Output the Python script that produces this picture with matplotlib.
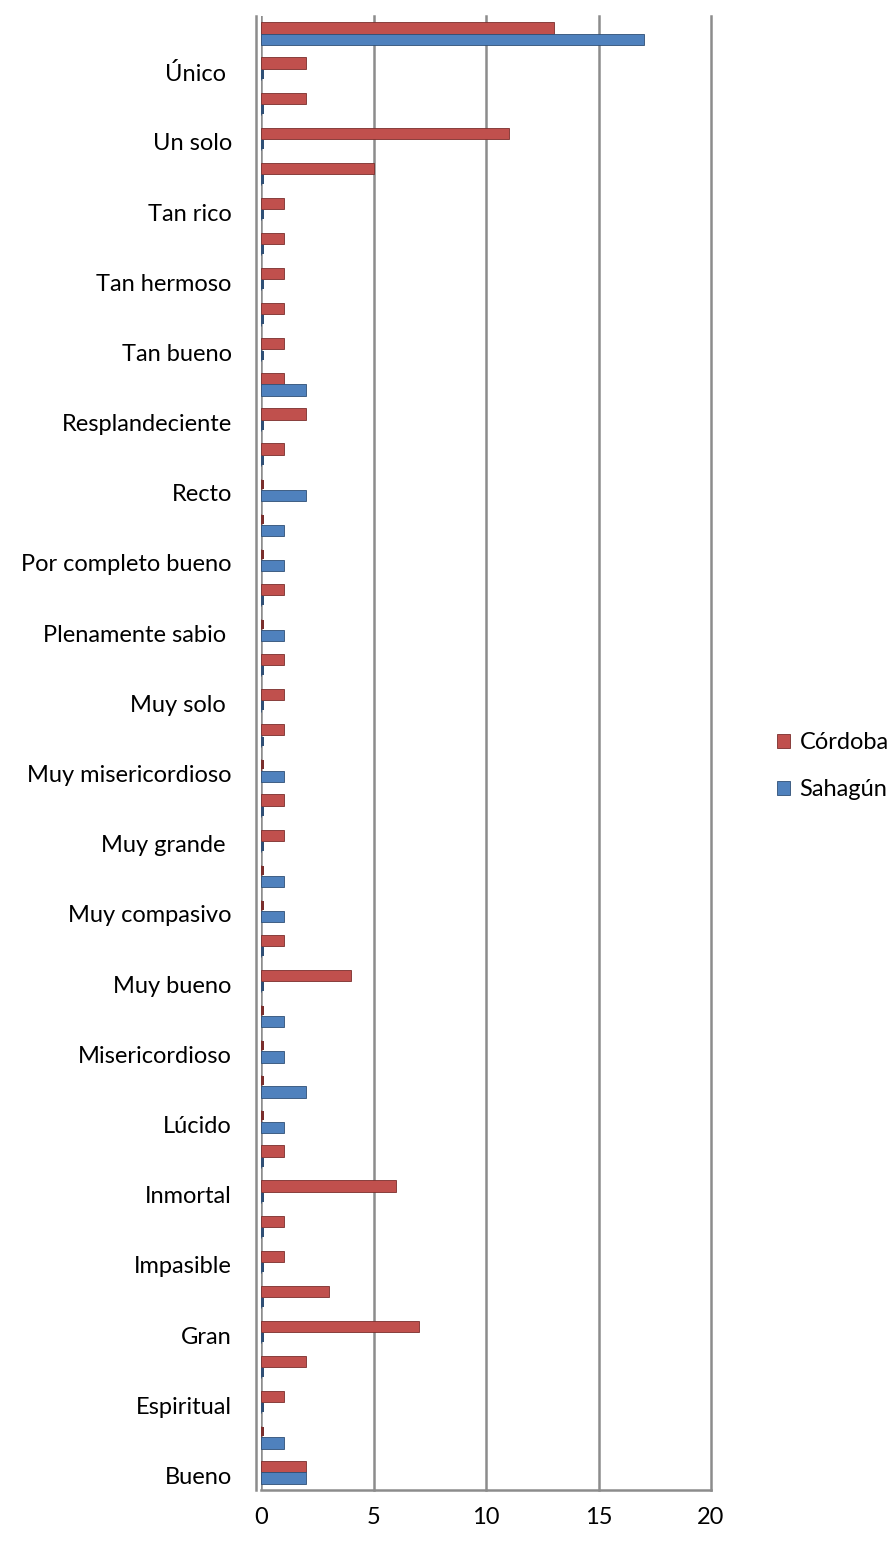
import matplotlib.pyplot as plt
import matplotlib.transforms as mtransforms
import numpy as np

# categories from bottom to top; only every other label is shown in the chart
categories = ["Bueno", "", "Espiritual", "", "Gran", "", "Impasible", "",
              "Inmortal", "", "Lúcido", "", "Misericordioso", "", "Muy bueno", "",
              "Muy compasivo", "", "Muy grande ", "", "Muy misericordioso", "",
              "Muy solo ", "", "Plenamente sabio ", "", "Por completo bueno", "",
              "Recto", "", "Resplandeciente", "", "Tan bueno", "", "Tan hermoso", "",
              "Tan rico", "", "Un solo", "", "Único ", ""]
cordoba = [2, 0, 1, 2, 7, 3, 1, 1, 6, 1, 0, 0, 0, 0, 4, 1, 0, 0, 1, 1, 0,
           1, 1, 1, 0, 1, 0, 0, 0, 1, 2, 1, 1, 1, 1, 1, 1, 5, 11, 2, 2, 13]
sahagun = [2, 1, 0, 0, 0, 0, 0, 0, 0, 0, 1, 2, 1, 1, 0, 0, 1, 1, 0, 0, 1,
           0, 0, 0, 1, 0, 1, 1, 2, 0, 0, 2, 0, 0, 0, 0, 0, 0, 0, 0, 0, 17]
series_names = ["Córdoba", "Sahagún"]
xticks = [0, 5, 10, 15, 20]

red = "#C0504D"
blue = "#4F81BD"
red_dark = "#7A2E2C"
blue_dark = "#2F4F75"

plt.rcParams['font.family'] = ['Lato', 'DejaVu Sans']

fig = plt.figure(figsize=(8.94, 15.41), dpi=100)
ax = fig.add_axes([261 / 894, 51 / 1541, (711 - 261) / 894, (1489.5 - 15.5) / 1541])

y = np.arange(len(categories))
h = 0.32
c = np.array(cordoba, dtype=float)
s = np.array(sahagun, dtype=float)

ax.barh(y + h / 2, c, height=h, color=red, edgecolor=red_dark, linewidth=0.6, zorder=3,
        label=series_names[0])
ax.barh(y - h / 2, s, height=h, color=blue, edgecolor=blue_dark, linewidth=0.6, zorder=3,
        label=series_names[1])
# thin slivers where the value is zero (3D depth of empty bars)
ax.barh((y + h / 2)[c == 0], 0.12, height=h * 0.8, color=red_dark, zorder=3)
ax.barh((y - h / 2)[s == 0], 0.12, height=h * 0.8, color=blue_dark, zorder=3)

ax.set_xlim(0, 20)
ax.set_ylim(-0.5, len(categories) - 0.5)
ax.set_xticks(xticks)
ax.set_xticklabels([str(v) for v in xticks])
ax.set_yticks(y)
ax.set_yticklabels(categories)
ax.tick_params(axis='both', length=0, labelsize=17)
ax.tick_params(axis='y', pad=21)
ax.tick_params(axis='x', pad=12)

shift = mtransforms.ScaledTranslation(0, -3 / 100, fig.dpi_scale_trans)
for lab in ax.get_yticklabels():
    lab.set_transform(lab.get_transform() + shift)

for v in xticks[1:]:
    ax.axvline(v, color="#8C8C8C", linewidth=1.8, zorder=1, clip_on=False)
ax.axvline(-0.22, color="#8C8C8C", linewidth=1.8, zorder=1, clip_on=False)
ax.axvline(0, color="#8C8C8C", linewidth=1.8, zorder=1)

for sp in ['top', 'right', 'left']:
    ax.spines[sp].set_visible(False)
ax.spines['bottom'].set_color("#8C8C8C")
ax.spines['bottom'].set_linewidth(1.8)

leg = ax.legend(loc='center left', bbox_to_anchor=(1.147, 0.491), frameon=False,
                fontsize=17, handlelength=0.55, handleheight=0.55, handletextpad=0.4,
                labelspacing=1.1, borderaxespad=0, borderpad=0)

plt.savefig("out.png", dpi=100)
